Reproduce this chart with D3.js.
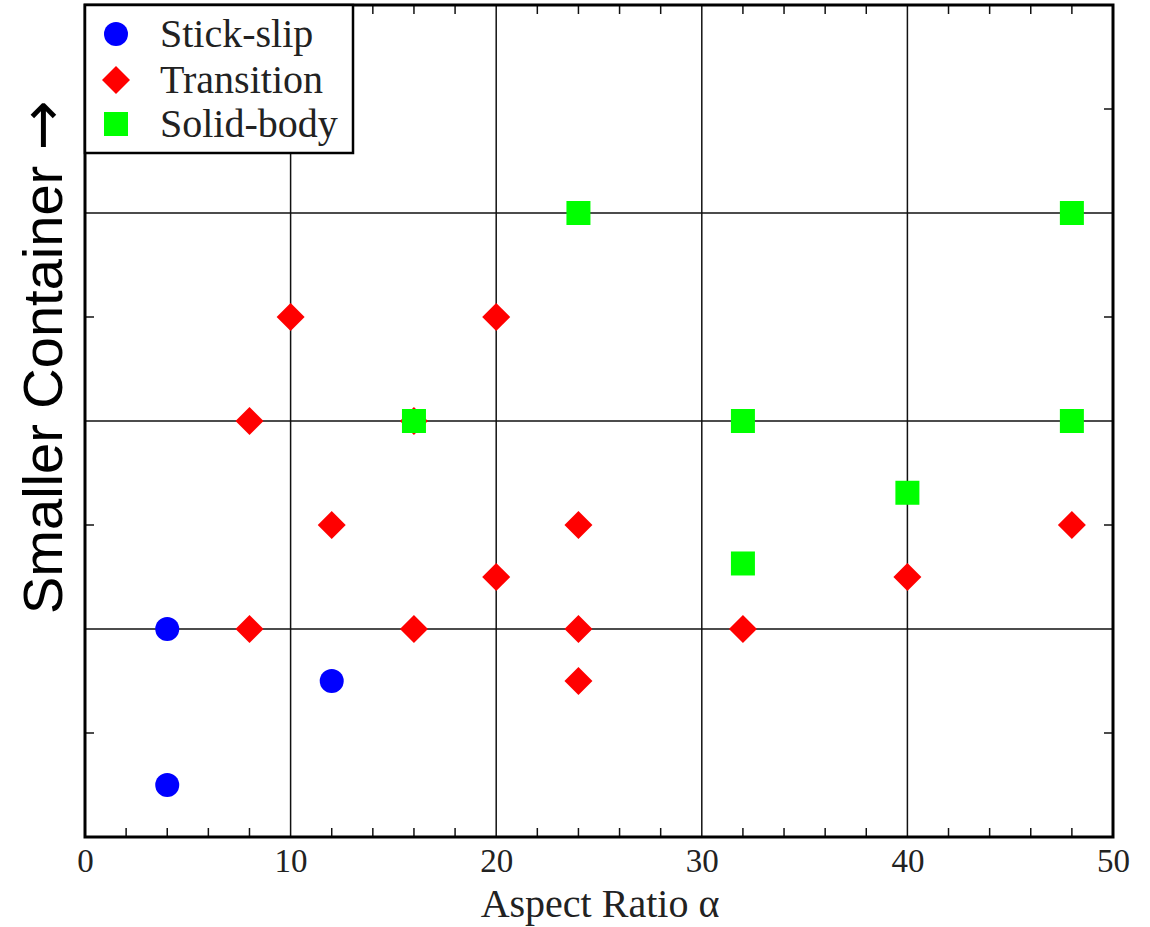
<!DOCTYPE html>
<html><head><meta charset="utf-8">
<script src="https://cdn.jsdelivr.net/npm/d3@7"></script>
<style>body{margin:0;background:#fff}</style>
</head><body>
<script>
const xTicks = [0, 10, 20, 30, 40, 50];
const stickSlipX = [4, 12, 4];
const stickSlipY = [2, 1.5, 0.5];
const transitionX = [10, 20, 8, 16, 12, 24, 48, 20, 40, 8, 16, 24, 32, 24];
const transitionY = [5, 5, 4, 4, 3, 3, 3, 2.5, 2.5, 2, 2, 2, 2, 1.5];
const solidX = [24, 48, 16, 32, 48, 40, 32];
const solidY = [6, 6, 4, 4, 4, 3.31, 2.63];
const seriesNames = ["Stick-slip", "Transition", "Solid-body"];
const seriesColors = ["#0000ff", "#ff0000", "#00ff00"];

const W = 1150, H = 927;
const L = 85, R = 1113, T = 5, B = 837;
const svg = d3.select("body").append("svg").attr("width", W).attr("height", H);
const x = d3.scaleLinear().domain([0, 50]).range([L, R]);
const y = d3.scaleLinear().domain([0, 8]).range([B, T]);

// gridlines
svg.append("g").selectAll("line").data([10, 20, 30, 40]).join("line")
  .attr("x1", d => x(d)).attr("x2", d => x(d)).attr("y1", T).attr("y2", B)
  .attr("stroke", "#111").attr("stroke-width", 1.5);
svg.append("g").selectAll("line").data([2, 4, 6]).join("line")
  .attr("y1", d => y(d)).attr("y2", d => y(d)).attr("x1", L).attr("x2", R)
  .attr("stroke", "#111").attr("stroke-width", 1.5);

// bottom axis
const xAxis = d3.axisBottom(x).tickValues(xTicks).tickSize(0).tickPadding(12);
const gx = svg.append("g").attr("transform", `translate(0,${B})`).call(xAxis);
gx.select(".domain").remove();
gx.selectAll("text").attr("font-family", "'Liberation Serif', 'Times New Roman', serif")
  .attr("font-size", 33).attr("fill", "#222");

// minor ticks
const minorX = d3.range(2, 50, 2).filter(d => d % 10 !== 0);
svg.append("g").selectAll("line").data(minorX).join("line")
  .attr("x1", d => x(d)).attr("x2", d => x(d)).attr("y1", B).attr("y2", B - 9)
  .attr("stroke", "#111").attr("stroke-width", 1.5);
svg.append("g").selectAll("line").data(minorX).join("line")
  .attr("x1", d => x(d)).attr("x2", d => x(d)).attr("y1", T).attr("y2", T + 9)
  .attr("stroke", "#111").attr("stroke-width", 1.5);
const minorY = [1, 3, 5, 7];
svg.append("g").selectAll("line").data(minorY).join("line")
  .attr("y1", d => y(d)).attr("y2", d => y(d)).attr("x1", L).attr("x2", L + 9)
  .attr("stroke", "#111").attr("stroke-width", 1.5);
svg.append("g").selectAll("line").data(minorY).join("line")
  .attr("y1", d => y(d)).attr("y2", d => y(d)).attr("x1", R).attr("x2", R - 9)
  .attr("stroke", "#111").attr("stroke-width", 1.5);

// markers
function drawMarker(g, type, cx, cy, color) {
  if (type === 0) {
    g.append("circle").attr("cx", cx).attr("cy", cy).attr("r", 12).attr("fill", color);
  } else if (type === 1) {
    const s = 14;
    g.append("path").attr("d", `M${cx},${cy - s}L${cx + s},${cy}L${cx},${cy + s}L${cx - s},${cy}Z`).attr("fill", color);
  } else {
    g.append("rect").attr("x", cx - 12).attr("y", cy - 12).attr("width", 24).attr("height", 24).attr("fill", color);
  }
}
const pts = svg.append("g");
transitionX.forEach((d, i) => drawMarker(pts, 1, x(d), y(transitionY[i]), seriesColors[1]));
stickSlipX.forEach((d, i) => drawMarker(pts, 0, x(d), y(stickSlipY[i]), seriesColors[0]));
solidX.forEach((d, i) => drawMarker(pts, 2, x(d), y(solidY[i]), seriesColors[2]));

// frame
svg.append("rect").attr("x", L).attr("y", T).attr("width", R - L).attr("height", B - T)
  .attr("fill", "none").attr("stroke", "#000").attr("stroke-width", 3);

// legend
const lg = svg.append("g");
lg.append("rect").attr("x", L).attr("y", T).attr("width", 268).attr("height", 148)
  .attr("fill", "#fff").attr("stroke", "#000").attr("stroke-width", 2.5);
const rowsY = [34, 80, 124];
seriesNames.forEach((n, i) => {
  drawMarker(lg, i, 116, rowsY[i], seriesColors[i]);
  lg.append("text").attr("x", 160).attr("y", rowsY[i] + 13).text(n)
    .attr("font-family", "'Liberation Serif', 'Times New Roman', serif")
    .attr("font-size", 40).attr("fill", "#222");
});

// axis labels
svg.append("text").attr("x", (L + R) / 2 + 1).attr("y", 917).attr("text-anchor", "middle")
  .attr("font-family", "'Liberation Serif', 'Times New Roman', serif").attr("font-size", 40)
  .attr("fill", "#222").text("Aspect Ratio α");
const yl = svg.append("text").attr("transform", "translate(62,357) rotate(-90)").attr("text-anchor", "middle")
  .attr("font-family", "'Liberation Sans', Arial, sans-serif").attr("font-size", 56)
  .attr("fill", "#000");
yl.append("tspan").text("Smaller Container ");
yl.append("tspan").attr("font-family", "'DejaVu Sans', sans-serif").attr("font-size", 60).text("→");
</script>
</body></html>
